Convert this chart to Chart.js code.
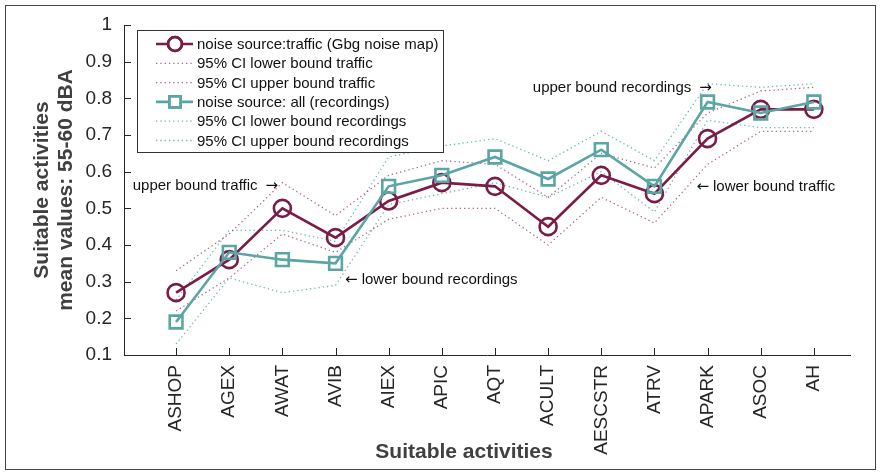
<!DOCTYPE html>
<html>
<head>
<meta charset="utf-8">
<script src="https://cdn.jsdelivr.net/npm/chart.js@4/dist/chart.umd.min.js"></script>
<style>
  html, body { margin: 0; padding: 0; background: #fff; }
  #wrap { position: relative; width: 881px; height: 473px; }
</style>
</head>
<body>
<div id="wrap"><canvas id="chart" width="881" height="473"></canvas></div>
<script>
// activity categories on the x axis
const activities = ["ASHOP", "AGEX", "AWAT", "AVIB", "AIEX", "APIC", "AQT",
  "ACULT", "AESCSTR", "ATRV", "APARK", "ASOC", "AH"];

// noise source: traffic (Gbg noise map)
const trafficMean  = [0.27, 0.36, 0.50, 0.42, 0.52, 0.57, 0.56, 0.45, 0.59, 0.54, 0.69, 0.77, 0.77];
const trafficLower = [0.22, 0.31, 0.43, 0.38, 0.47, 0.50, 0.50, 0.40, 0.53, 0.46, 0.62, 0.71, 0.71];
const trafficUpper = [0.33, 0.43, 0.57, 0.48, 0.59, 0.63, 0.62, 0.53, 0.65, 0.61, 0.76, 0.82, 0.83];

// noise source: all (recordings)
const recMean  = [0.19, 0.38, 0.36, 0.35, 0.56, 0.59, 0.64, 0.58, 0.66, 0.56, 0.79, 0.76, 0.79];
const recLower = [0.13, 0.31, 0.27, 0.29, 0.51, 0.54, 0.57, 0.53, 0.60, 0.49, 0.74, 0.72, 0.72];
const recUpper = [0.25, 0.44, 0.44, 0.41, 0.64, 0.67, 0.69, 0.63, 0.71, 0.63, 0.84, 0.83, 0.84];

// text notes in the plot, anchored to data coordinates (arrow drawn beside the text)
const notes = [
  { text: "upper bound traffic", arrow: "\u2192", x: 1.92, y: 0.56, align: "right" },
  { text: "lower bound recordings", arrow: "\u2190", x: 3.18, y: 0.305, align: "left" },
  { text: "upper bound recordings", arrow: "\u2192", x: 10.08, y: 0.828, align: "right" },
  { text: "lower bound traffic", arrow: "\u2190", x: 9.79, y: 0.558, align: "left" },
];

const MAROON = "#7a1c48";
const TEAL = "#5ba5a5";
const PINK_DOT = "rgba(150,50,100,0.75)";
const TEAL_DOT = "rgba(70,165,165,0.8)";
const FONT = "'Liberation Sans', Arial, Helvetica, sans-serif";
const ARROW_FONT = "'DejaVu Sans', sans-serif";

const toXY = arr => arr.map((v, i) => ({ x: i, y: v }));

function mainSet(label, values, color, style, radius, order) {
  return {
    label: label,
    data: toXY(values),
    borderColor: color,
    borderWidth: 2.6,
    pointStyle: style,
    pointRadius: radius,
    pointBorderWidth: 2.6,
    pointBorderColor: color,
    pointBackgroundColor: "rgba(0,0,0,0)",
    fill: false,
    tension: 0,
    order: order,
  };
}

function ciSet(label, values, color) {
  return {
    label: label,
    data: toXY(values),
    borderColor: color,
    borderWidth: 1.3,
    borderDash: [1.3, 3],
    pointRadius: 0,
    fill: false,
    tension: 0,
    order: 5,
  };
}

const datasets = [
  mainSet("noise source:traffic (Gbg noise map)", trafficMean, MAROON, "circle", 8.5, 2),
  ciSet("95% CI lower bound traffic", trafficLower, PINK_DOT),
  ciSet("95% CI upper bound traffic", trafficUpper, PINK_DOT),
  mainSet("noise source: all (recordings)", recMean, TEAL, "rect", 9, 1),
  ciSet("95% CI lower bound recordings", recLower, TEAL_DOT),
  ciSet("95% CI upper bound recordings", recUpper, TEAL_DOT),
];

// frame, inward ticks, legend box, notes and x label
const decorations = {
  id: "decorations",
  beforeDraw(chart) {
    const ctx = chart.ctx;
    ctx.save();
    ctx.fillStyle = "#fff";
    ctx.fillRect(0, 0, chart.width, chart.height);
    ctx.strokeStyle = "#444";
    ctx.lineWidth = 1;
    ctx.strokeRect(5.5, 5.5, 870, 464);
    ctx.restore();
  },
  afterDraw(chart) {
    const ctx = chart.ctx;
    const xs = chart.scales.x, ys = chart.scales.y;
    const area = chart.chartArea;
    ctx.save();

    // inward tick marks
    ctx.strokeStyle = "#262626";
    ctx.lineWidth = 1;
    ctx.beginPath();
    ys.ticks.forEach(t => {
      const py = Math.round(ys.getPixelForValue(t.value)) + 0.5;
      ctx.moveTo(area.left, py);
      ctx.lineTo(area.left + 7, py);
    });
    xs.ticks.forEach(t => {
      const px = Math.round(xs.getPixelForValue(t.value)) + 0.5;
      ctx.moveTo(px, area.bottom);
      ctx.lineTo(px, area.bottom - 7);
    });
    ctx.stroke();

    // notes: text plus arrow
    ctx.fillStyle = "#111";
    ctx.textBaseline = "middle";
    ctx.textAlign = "left";
    notes.forEach(n => {
      const px = xs.getPixelForValue(n.x);
      const py = ys.getPixelForValue(n.y);
      ctx.font = "15px " + FONT;
      const tw = ctx.measureText(n.text).width;
      ctx.font = "15px " + ARROW_FONT;
      const aw = ctx.measureText(n.arrow).width;
      const gap = 8;
      if (n.align === "right") {
        ctx.fillText(n.arrow, px - aw, py);
        ctx.font = "15px " + FONT;
        ctx.fillText(n.text, px - aw - gap - tw, py);
      } else {
        ctx.fillText(n.arrow, px, py);
        ctx.font = "15px " + FONT;
        ctx.fillText(n.text, px + aw + gap - 4, py);
      }
    });

    // x axis label
    ctx.fillStyle = "#404040";
    ctx.font = "bold 21px " + FONT;
    ctx.textAlign = "center";
    ctx.fillText("Suitable activities", 464, 452);

    // legend
    const bx = 137.5, by = 30.5, bw = 306, bh = 122;
    ctx.fillStyle = "#fff";
    ctx.fillRect(bx, by, bw, bh);
    ctx.strokeStyle = "#333";
    ctx.lineWidth = 1;
    ctx.strokeRect(bx, by, bw, bh);
    ctx.font = "15px " + FONT;
    ctx.textAlign = "left";
    chart.data.datasets.forEach((ds, i) => {
      const cy = 44 + i * 19.3;
      ctx.save();
      ctx.strokeStyle = ds.borderColor;
      ctx.lineWidth = ds.borderWidth;
      ctx.setLineDash(ds.borderDash || []);
      ctx.beginPath();
      ctx.moveTo(156, cy);
      ctx.lineTo(193, cy);
      ctx.stroke();
      ctx.setLineDash([]);
      if (ds.pointRadius > 0) {
        ctx.lineWidth = ds.pointBorderWidth;
        ctx.fillStyle = "#fff";
        Chart.helpers.drawPoint(ctx, {
          pointStyle: ds.pointStyle,
          radius: ds.pointStyle === "rect" ? 8 : 7,
          borderWidth: ds.pointBorderWidth,
        }, 175, cy);
        ctx.stroke();
      }
      ctx.restore();
      ctx.fillStyle = "#111";
      ctx.fillText(ds.label, 197, cy + 1);
    });
    ctx.restore();
  },
};

new Chart(document.getElementById("chart"), {
  type: "line",
  data: { datasets: datasets },
  plugins: [decorations],
  options: {
    responsive: false,
    animation: false,
    layout: { padding: { left: 0, top: 25, right: 31, bottom: 0 } },
    plugins: {
      legend: { display: false },
      tooltip: { enabled: false },
    },
    scales: {
      x: {
        type: "linear",
        min: -0.98,
        max: 12.68,
        afterBuildTicks: scale => {
          scale.ticks = activities.map((_, i) => ({ value: i }));
        },
        afterFit: scale => { scale.height = 118; },
        grid: { drawOnChartArea: false, drawTicks: false },
        border: { display: true, color: "#262626", width: 1 },
        ticks: {
          autoSkip: false,
          minRotation: 90,
          maxRotation: 90,
          padding: 10,
          color: "#262626",
          font: { family: FONT, size: 19 },
          callback: v => activities[v],
        },
        title: { display: false },
      },
      y: {
        min: 0.1,
        max: 1,
        afterFit: scale => { scale.width = 124; },
        grid: { drawOnChartArea: false, drawTicks: false },
        border: { display: true, color: "#262626", width: 1 },
        ticks: {
          stepSize: 0.1,
          padding: 12,
          color: "#262626",
          font: { family: FONT, size: 19 },
          callback: v => String(+v.toFixed(1)),
        },
        title: {
          display: true,
          text: ["Suitable activities", "mean values: 55-60 dBA"],
          color: "#404040",
          font: { family: FONT, size: 21, weight: "bold", lineHeight: 1.15 },
          padding: { top: 30, bottom: 0 },
        },
      },
    },
  },
});
</script>
</body>
</html>
